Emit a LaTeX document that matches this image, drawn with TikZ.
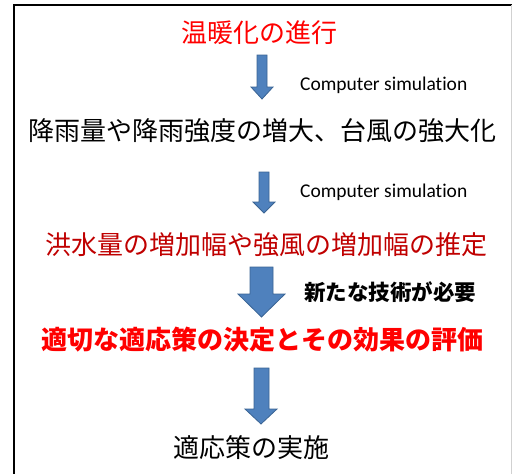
\documentclass[tikz,border=0pt]{standalone}
\usepackage{fontspec}
\newfontfamily\jp{Noto Sans CJK JP}
\newfontfamily\lat[Ligatures=NoCommon]{Carlito}
\definecolor{arrfill}{HTML}{4F81BD}
\definecolor{arrline}{HTML}{3A6494}
\definecolor{darkred}{HTML}{C00000}
\begin{document}
\begin{tikzpicture}[x=1pt,y=-1pt,
  jtext/.style={inner sep=0pt,font=\jp\fontsize{26}{26}\selectfont},
  csim/.style={inner sep=0pt,anchor=west,font=\lat\fontsize{19.5}{20}\selectfont},
  barrow/.style={fill=arrfill,draw=arrline,line width=0.8pt,line join=miter}]
\useasboundingbox (0,0) rectangle (512,474);
\fill[white] (0,0) rectangle (512,474);
% frame
\draw[line width=1.4pt] (14,474) -- (14,5) -- (512,5);
\draw[line width=1pt,draw=black!18] (511.5,5) -- (511.5,474);
% texts
\node[jtext,text=red] (t1) at (259.5,33) {温暖化の進行};
\node[csim] (c1) at (300,85) {Computer simulation};
\node[jtext] (t2) at (262.5,131) {降雨量や降雨強度の増大、台風の強大化};
\node[csim] (c2) at (300,192) {Computer simulation};
\node[jtext,text=darkred] (t3) at (266.5,245) {洪水量の増加幅や強風の増加幅の推定};
\node[inner sep=0pt,font=\jp\fontsize{21.5}{21.5}\selectfont\bfseries] (n1) at (390,292) {新たな技術が必要};
\node[jtext,text=red,font=\jp\fontsize{26}{26}\selectfont\bfseries] (t4) at (262.5,340) {適切な適応策の決定とその効果の評価};
\node[jtext] (t5) at (251.5,448) {適応策の実施};
% block arrows
\draw[barrow] (257,55) -- (267,55) -- (267,87) -- (273,87) -- (262,99) -- (251,87) -- (257,87) -- cycle;
\draw[barrow] (259,172) -- (269,172) -- (269,202) -- (275,202) -- (264,213) -- (253,202) -- (259,202) -- cycle;
\draw[barrow] (250,267) -- (273,267) -- (273,294) -- (285,294) -- (261.5,317) -- (238,294) -- (250,294) -- cycle;
\draw[barrow] (254,368) -- (269,368) -- (269,409) -- (277,409) -- (261,424) -- (245,409) -- (254,409) -- cycle;
\end{tikzpicture}
\end{document}
